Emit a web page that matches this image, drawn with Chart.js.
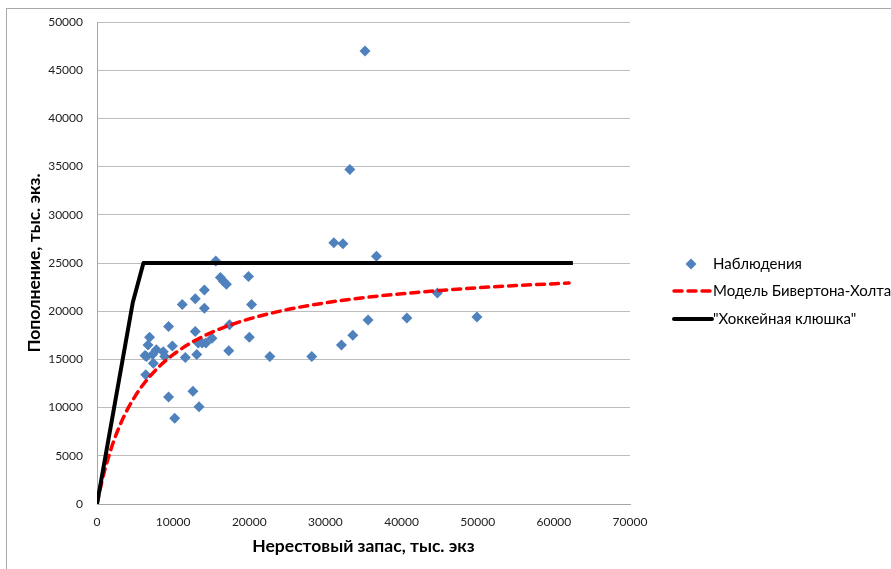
<!DOCTYPE html>
<html lang="ru">
<head>
<meta charset="utf-8">
<script src="https://cdn.jsdelivr.net/npm/chart.js@4.4.1/dist/chart.umd.min.js"></script>
<style>
  html, body { margin: 0; padding: 0; background: #fff; overflow: hidden; }
  #wrap { position: relative; width: 891px; height: 569px; overflow: hidden; }
  #frame { position: absolute; left: 6px; top: 8px; width: 920px; height: 600px; border: 1px solid #a9a9a9; }
  #c { position: absolute; left: 0; top: 0; }
  .leg { position: absolute; font-family: Lato, "Noto Sans", sans-serif; font-size: 15px; color: #000; white-space: nowrap; line-height: 18px; }
  .leg svg { position: absolute; }
</style>
</head>
<body>
<div id="wrap">
  <div id="frame"></div>
  <canvas id="c" width="891" height="569"></canvas>
  <div class="leg" style="left:0; top:0; width:891px; height:569px;">
    <svg style="left:684px; top:257px;" width="14" height="14"><polygon points="7,1.5 12.5,7 7,12.5 1.5,7" fill="#4F81BD"/></svg>
    <span style="position:absolute; left:713px; top:254px;">Наблюдения</span>
    <svg style="left:672px; top:285px;" width="42" height="12"><line x1="2" y1="6" x2="40" y2="6" stroke="#FF0000" stroke-width="3.5" stroke-linecap="round" stroke-dasharray="8,6"/></svg>
    <span style="position:absolute; left:713px; top:281px;">Модель Бивертона-Холта</span>
    <svg style="left:672px; top:313px;" width="42" height="12"><line x1="2" y1="6" x2="40" y2="6" stroke="#000" stroke-width="4" stroke-linecap="round"/></svg>
    <span style="position:absolute; left:713px; top:309px;">"Хоккейная клюшка"</span>
  </div>
</div>
<script>
// Spawning stock (thousand fish) and recruitment (thousand fish) observations
const stockObs = [6300, 6500, 6700, 6900, 7300, 7400, 6400, 7800, 8700, 8900,
  9400, 9900, 9400, 10200, 11200, 11600, 12600, 12900, 12900, 13100,
  13300, 13400, 13800, 14100, 14100, 14300, 15100, 15600, 16200, 16600,
  17000, 17300, 17400, 19900, 20000, 20300, 22700, 28200, 31100, 32300,
  32100, 33200, 33600, 35200, 35600, 36700, 40700, 44700, 49900];
const recruitObs = [15400, 15300, 16500, 17300, 15500, 14600, 13400, 16000, 15800, 15300,
  18400, 16400, 11100, 8900, 20700, 15200, 11700, 21300, 17900, 15500,
  16700, 10100, 16700, 22200, 20300, 16700, 17200, 25200, 23500, 23100,
  22800, 15900, 18600, 23600, 17300, 20700, 15300, 15300, 27100, 27000,
  16500, 34700, 17500, 47000, 19100, 25700, 19300, 21900, 19400];

// Beverton-Holt model curve
const bhStock = [0, 500, 1000, 2000, 3000, 4000, 5000, 6000, 8000, 10000, 12500, 15000,
  17500, 20000, 25000, 30000, 35000, 40000, 45000, 50000, 55000, 62000];
const bhRecruit = [0, 1860, 3460, 6080, 8150, 9810, 11170, 12320, 14130, 15490, 16790, 17780,
  18570, 19200, 20170, 20870, 21400, 21810, 22150, 22430, 22660, 22920];

// "Hockey stick" model
const hsStock = [0, 4700, 6100, 62500];
const hsRecruit = [0, 20900, 25000, 25000];

// Axis tick values
const xTicks = [0, 10000, 20000, 30000, 40000, 50000, 60000, 70000];
const yTicks = [0, 5000, 10000, 15000, 20000, 25000, 30000, 35000, 40000, 45000, 50000];

const labels = {
  obs: 'Наблюдения',
  bh: 'Модель Бивертона-Холта',
  hs: '"Хоккейная клюшка"',
  xTitle: 'Нерестовый запас, тыс. экз',
  yTitle: 'Пополнение, тыс. экз.'
};

const pairs = (xs, ys) => xs.map((x, i) => ({ x: x, y: ys[i] }));
const FONT = 'Lato, "Noto Sans", sans-serif';

new Chart(document.getElementById('c'), {
  type: 'scatter',
  data: {
    datasets: [
      {
        label: labels.obs,
        data: pairs(stockObs, recruitObs),
        pointStyle: 'rectRot',
        pointRadius: 5.5,
        pointHoverRadius: 5.5,
        backgroundColor: '#4F81BD',
        borderColor: '#4F81BD',
        borderWidth: 0,
        showLine: false,
        order: 3
      },
      {
        label: labels.bh,
        type: 'line',
        data: pairs(bhStock, bhRecruit),
        borderColor: '#FF0000',
        borderWidth: 3.5,
        borderDash: [8, 6],
        borderCapStyle: 'round',
        cubicInterpolationMode: 'monotone',
        pointRadius: 0,
        fill: false,
        order: 2
      },
      {
        label: labels.hs,
        type: 'line',
        data: pairs(hsStock, hsRecruit),
        borderColor: '#000000',
        borderWidth: 4,
        borderJoinStyle: 'round',
        tension: 0,
        pointRadius: 0,
        fill: false,
        order: 1
      }
    ]
  },
  options: {
    responsive: false,
    animation: false,
    layout: { padding: { left: 0, top: 22, right: 261, bottom: 0 } },
    plugins: { legend: { display: false }, tooltip: { enabled: false } },
    scales: {
      x: {
        type: 'linear',
        min: 0, max: 70000,
        afterBuildTicks: (s) => { s.ticks = xTicks.map(v => ({ value: v })); },
        afterFit: (s) => { s.height = 65; },
        grid: { display: false, drawTicks: false },
        border: { display: true, color: '#A6A6A6', width: 1 },
        ticks: { padding: 11, color: '#222', font: { family: FONT, size: 12 }, maxRotation: 0, callback: (v) => String(v) },
        title: { display: true, text: labels.xTitle, color: '#000', font: { family: FONT, size: 17.5, weight: 'bold' }, padding: { top: 0, bottom: 12 } }
      },
      y: {
        type: 'linear',
        min: 0, max: 50000,
        afterBuildTicks: (s) => { s.ticks = yTicks.map(v => ({ value: v })); },
        afterFit: (s) => { s.width = 97; },
        grid: { display: true, drawTicks: false, color: '#BDBDBD', lineWidth: 1 },
        border: { display: true, color: '#A6A6A6', width: 1 },
        ticks: { padding: 14, color: '#222', font: { family: FONT, size: 12 }, callback: (v) => String(v) },
        title: { display: true, text: labels.yTitle, color: '#000', font: { family: FONT, size: 17.5, weight: 'bold' }, padding: { top: 24, bottom: 0 } }
      }
    }
  }
});
</script>
</body>
</html>
